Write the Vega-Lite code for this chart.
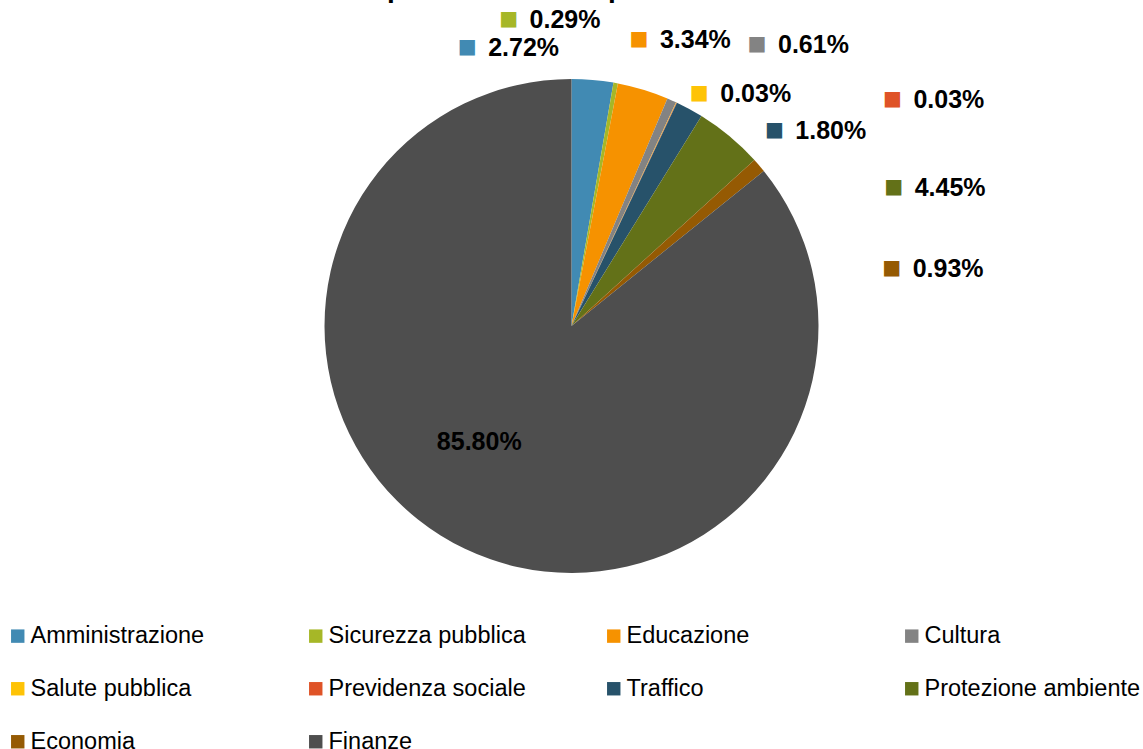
{
  "$schema": "https://vega.github.io/schema/vega-lite/v6.json",
  "width": 1143,
  "height": 652,
  "autosize": {"type": "none"},
  "padding": {"top": 0, "left": 0, "right": 0, "bottom": 97},
  "background": "white",
  "title": {
    "text": "Ripartizione ricavi per dicastero",
    "font": "Liberation Sans",
    "fontSize": 28,
    "fontWeight": "bold",
    "color": "#000000",
    "anchor": "middle",
    "frame": "group",
    "baseline": "alphabetic",
    "offset": 0,
    "dy": 25
  },
  "config": {"view": {"stroke": null}},
  "data": {
    "values": [
      {"categoria": "Amministrazione", "quota": 0.0272, "idx": 0},
      {"categoria": "Sicurezza pubblica", "quota": 0.0029, "idx": 1},
      {"categoria": "Educazione", "quota": 0.0334, "idx": 2},
      {"categoria": "Cultura", "quota": 0.0061, "idx": 3},
      {"categoria": "Salute pubblica", "quota": 0.0003, "idx": 4},
      {"categoria": "Previdenza sociale", "quota": 0.0003, "idx": 5},
      {"categoria": "Traffico", "quota": 0.0180, "idx": 6},
      {"categoria": "Protezione ambiente", "quota": 0.0445, "idx": 7},
      {"categoria": "Economia", "quota": 0.0093, "idx": 8},
      {"categoria": "Finanze", "quota": 0.8580, "idx": 9}
    ]
  },
  "encoding": {
    "theta": {"field": "quota", "type": "quantitative", "stack": true},
    "order": {"field": "idx", "type": "quantitative"},
    "color": {
      "field": "categoria",
      "type": "nominal",
      "sort": null,
      "scale": {
        "domain": ["Amministrazione", "Sicurezza pubblica", "Educazione", "Cultura", "Salute pubblica", "Previdenza sociale", "Traffico", "Protezione ambiente", "Economia", "Finanze"],
        "range": ["#418AB3", "#A6B727", "#F69200", "#838383", "#FEC306", "#DF5327", "#27526A", "#637118", "#955A03", "#4E4E4E"]
      },
      "legend": {
        "title": null,
        "orient": "none",
        "legendX": 6,
        "legendY": 624,
        "direction": "horizontal",
        "columns": 4,
        "gridAlign": "all",
        "columnPadding": 57,
        "rowPadding": 28,
        "symbolType": "square",
        "symbolSize": 180,
        "symbolStrokeWidth": 0,
        "symbolOpacity": 1,
        "labelFont": "Liberation Sans",
        "labelFontSize": 23.5,
        "labelColor": "#000000",
        "labelOffset": 1,
        "labelLimit": 400
      }
    }
  },
  "layer": [
    {"mark": {"type": "arc", "outerRadius": 247}},
    {
      "transform": [{"filter": "datum.idx < 9"}],
      "mark": {
        "type": "text",
        "text": "■",
        "font": "DejaVu Sans",
        "fontSize": 20,
        "align": "center",
        "baseline": "middle",
        "dx": -21,
        "dy": -1,
        "radius": {"expr": "[290, 309, 299, 349, 276, 410, 297, 370, 346, 148][datum.idx]"},
        "thetaOffset": {"expr": "[-0.377, -0.316, 0.006, 0.215, 0.131, 0.546, 0.356, 0.494, 0.541, 0.227][datum.idx]"}
      }
    },
    {
      "mark": {
        "type": "text",
        "font": "Liberation Sans",
        "fontSize": 25,
        "fontWeight": "bold",
        "color": "#000000",
        "baseline": "middle",
        "align": {"expr": "datum.idx === 9 ? 'center' : 'left'"},
        "radius": {"expr": "[290, 309, 299, 349, 276, 410, 297, 370, 346, 148][datum.idx]"},
        "thetaOffset": {"expr": "[-0.377, -0.316, 0.006, 0.215, 0.131, 0.546, 0.356, 0.494, 0.541, 0.227][datum.idx]"}
      },
      "encoding": {
        "text": {"field": "quota", "type": "quantitative", "format": ".2%"},
        "color": {"value": "#000000"}
      }
    }
  ]
}
